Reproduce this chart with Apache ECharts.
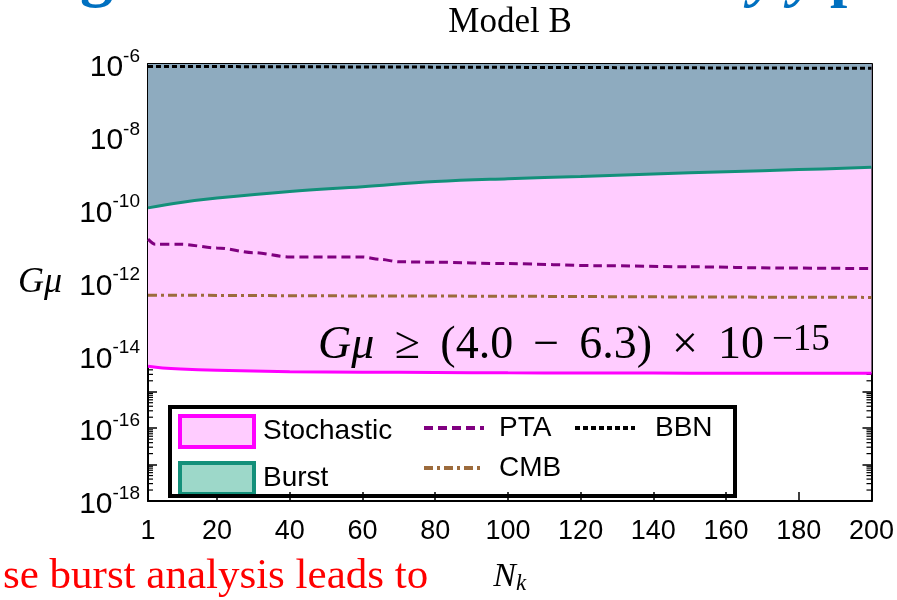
<!DOCTYPE html>
<html>
<head>
<meta charset="utf-8">
<title>Model B</title>
<script src="https://cdn.jsdelivr.net/npm/echarts@6/dist/echarts.min.js"></script>
<style>
  html, body { margin: 0; padding: 0; background: #fff; }
  #main { width: 897px; height: 600px; }
</style>
</head>
<body>
<div id="main"></div>
<script type="text/javascript">
// x ticks (N_k)
var xTicks = [1, 20, 40, 60, 80, 100, 120, 140, 160, 180, 200];

// lower bound, stochastic search
var stochN   = [1, 5, 10, 20, 40, 60, 80, 100, 120, 140, 160, 180, 200];
var stochGmu = [5.0e-15, 4.5e-15, 4.2e-15, 3.9e-15, 3.55e-15, 3.45e-15, 3.4e-15, 3.3e-15, 3.25e-15, 3.25e-15, 3.2e-15, 3.2e-15, 3.2e-15];

// lower bound, burst search
var burstN   = [1, 10, 20, 40, 60, 80, 100, 120, 140, 160, 180, 200];
var burstGmu = [1.12e-10, 1.58e-10, 2.09e-10, 3.16e-10, 4.27e-10, 5.89e-10, 7.08e-10, 8.13e-10, 9.55e-10, 1.10e-9, 1.26e-9, 1.45e-9];

// PTA
var ptaN   = [1, 3, 10, 20, 30, 40, 50, 60, 65, 70, 80, 100, 125, 150, 175, 200];
var ptaGmu = [1.55e-11, 1.12e-11, 1.12e-11, 8.9e-12, 6.6e-12, 5.0e-12, 5.0e-12, 5.0e-12, 4.3e-12, 3.7e-12, 3.6e-12, 3.3e-12, 2.9e-12, 2.7e-12, 2.5e-12, 2.4e-12];

// CMB
var cmbN   = [1, 50, 100, 150, 200];
var cmbGmu = [4.5e-13, 4.3e-13, 4.2e-13, 4.0e-13, 3.9e-13];

// BBN
var bbnN   = [1, 100, 200];
var bbnGmu = [8.6e-7, 8.1e-7, 7.6e-7];

function pairs(ns, vals) {
    return ns.map(function (n, i) { return [n, Math.log10(vals[i])]; });
}

// log-spaced minor ticks inside each decade
var minorTicks = [];
for (var d = -18; d < -6; d++) {
    for (var k = 2; k <= 9; k++) minorTicks.push([1, d + Math.log10(k)]);
}

var SANS = "'Liberation Sans', Arial, sans-serif";
var SERIF = "'Liberation Serif', 'Times New Roman', serif";
var NOFILL = 'rgba(0,0,0,0)';

var myChart = echarts.init(document.getElementById('main'));

myChart.setOption({
    animation: false,
    grid: { left: 148, right: 25, top: 64, bottom: 92 },
    legend: [
        {
            orient: 'vertical', left: 173, top: 409,
            itemWidth: 74, itemHeight: 31, itemGap: 12,
            textStyle: { fontFamily: SANS, fontSize: 28, color: '#000', padding: [0, 0, 0, 4] },
            data: [
                { name: 'Stochastic', icon: 'rect', itemStyle: { color: '#ffccff', borderColor: '#ff00ff', borderWidth: 4 } },
                { name: 'Burst', icon: 'rect', itemStyle: { color: '#9dd8c9', borderColor: '#13907a', borderWidth: 4 } }
            ]
        },
        {
            orient: 'vertical', left: 417, top: 409,
            itemWidth: 60, itemHeight: 31, itemGap: 12,
            itemStyle: { color: NOFILL, borderWidth: 0 },
            lineStyle: { width: 4 },
            textStyle: { fontFamily: SANS, fontSize: 28, color: '#000', padding: [0, 0, 0, 10] },
            data: ['PTA', 'CMB']
        },
        {
            orient: 'vertical', left: 568, top: 409,
            itemWidth: 60, itemHeight: 31,
            itemStyle: { color: NOFILL, borderWidth: 0 },
            lineStyle: { width: 4 },
            textStyle: { fontFamily: SANS, fontSize: 28, color: '#000', padding: [0, 0, 0, 15] },
            data: ['BBN']
        }
    ],
    xAxis: [
        {
            type: 'value', min: 1, max: 200, position: 'bottom',
            name: '{n|N}{k|k}', nameLocation: 'middle', nameGap: 58,
            nameTextStyle: {
                rich: {
                    n: { fontFamily: SERIF, fontStyle: 'italic', fontSize: 34, lineHeight: 36, color: '#000' },
                    k: { fontFamily: SERIF, fontStyle: 'italic', fontSize: 23, lineHeight: 16, verticalAlign: 'bottom', color: '#000' }
                }
            },
            axisLine: { lineStyle: { color: '#000', width: 2 } },
            axisTick: { inside: true, length: 9, customValues: xTicks, lineStyle: { color: '#000', width: 1.5 } },
            axisLabel: { customValues: xTicks, margin: 17, fontFamily: SANS, fontSize: 27, color: '#000' },
            splitLine: { show: false }
        },
        {
            type: 'value', min: 1, max: 200, position: 'top',
            axisLine: { lineStyle: { color: '#000', width: 2 } },
            axisTick: { inside: true, length: 9, customValues: xTicks, lineStyle: { color: '#000', width: 1.5 } },
            axisLabel: { show: false },
            splitLine: { show: false }
        }
    ],
    yAxis: [
        {
            type: 'value', min: -18, max: -6, interval: 1, position: 'left',
            name: 'Gμ', nameLocation: 'middle', nameRotate: 0, nameGap: 86,
            nameTextStyle: { fontFamily: SERIF, fontStyle: 'italic', fontSize: 36, color: '#000' },
            axisLine: { lineStyle: { color: '#000', width: 2 } },
            axisTick: { inside: true, length: 9, lineStyle: { color: '#000', width: 1.5 } },
            axisLabel: {
                margin: 8,
                formatter: function (v) { return v % 2 === 0 ? '{b|10}{s|' + v + '}' : ''; },
                rich: {
                    b: { fontFamily: SANS, fontSize: 30, lineHeight: 34, padding: [8, 0, 0, 0], color: '#000' },
                    s: { fontFamily: SANS, fontSize: 19, lineHeight: 14, verticalAlign: 'top', color: '#000' }
                }
            },
            splitLine: { show: false }
        },
        {
            type: 'value', min: -18, max: -6, interval: 1, position: 'right',
            axisLine: { lineStyle: { color: '#000', width: 2 } },
            axisTick: { inside: true, length: 9, lineStyle: { color: '#000', width: 1.5 } },
            axisLabel: { show: false },
            splitLine: { show: false }
        }
    ],
    series: [
        {
            name: 'Stochastic', type: 'line', data: pairs(stochN, stochGmu),
            smooth: 0.4, symbol: 'none',
            itemStyle: { color: '#ffccff' },
            lineStyle: { color: '#ff00ff', width: 3 },
            areaStyle: { origin: 'end', color: '#ffccff', opacity: 1 }
        },
        {
            name: 'Burst', type: 'line', data: pairs(burstN, burstGmu),
            smooth: 0.4, symbol: 'none',
            itemStyle: { color: '#9dd8c9' },
            lineStyle: { color: '#13907a', width: 3 },
            areaStyle: { origin: 'end', color: '#8eabbf', opacity: 1 }
        },
        {
            name: 'CMB', type: 'line', data: pairs(cmbN, cmbGmu),
            symbol: 'none',
            itemStyle: { color: '#9c6b3c' },
            lineStyle: { color: '#9c6b3c', width: 3, type: [9, 4, 3, 4] }
        },
        {
            name: 'PTA', type: 'line', data: pairs(ptaN, ptaGmu),
            smooth: 0.3, smoothMonotone: 'x', symbol: 'none',
            itemStyle: { color: '#800080' },
            lineStyle: { color: '#800080', width: 3, type: [9, 5] }
        },
        {
            name: 'BBN', type: 'line', data: pairs(bbnN, bbnGmu),
            symbol: 'none',
            itemStyle: { color: '#000' },
            lineStyle: { color: '#000', width: 3, type: [5, 3] }
        },
        {
            name: 'minor', type: 'custom', data: minorTicks, silent: true,
            renderItem: function (params, api) {
                var cs = params.coordSys;
                var y = api.coord([1, api.value(1)])[1];
                var style = { stroke: '#000', lineWidth: 1.2 };
                return {
                    type: 'group',
                    children: [
                        { type: 'line', shape: { x1: cs.x, y1: y, x2: cs.x + 5, y2: y }, style: style },
                        { type: 'line', shape: { x1: cs.x + cs.width - 5, y1: y, x2: cs.x + cs.width, y2: y }, style: style }
                    ]
                };
            }
        }
    ],
    graphic: [
        // cut-off slide heading
        { type: 'text', style: { x: 80, y: 10, text: 'g', font: 'bold 66px ' + SERIF, fill: '#0070c0', verticalAlign: 'bottom' } },
        { type: 'text', style: { x: 750, y: 10, text: 'y', font: 'italic bold 62px ' + SERIF, fill: '#0070c0', verticalAlign: 'bottom' } },
        { type: 'text', style: { x: 790, y: 10, text: 'y', font: 'italic bold 62px ' + SERIF, fill: '#0070c0', verticalAlign: 'bottom' } },
        { type: 'text', style: { x: 830, y: 10, text: 'p', font: 'bold 62px ' + SERIF, fill: '#0070c0', verticalAlign: 'bottom' } },
        // plot title
        { type: 'text', style: { x: 510, y: 23, text: 'Model B', font: '35px ' + SERIF, fill: '#000', align: 'center', verticalAlign: 'middle' } },
        // legend frame
        { type: 'rect', shape: { x: 170, y: 407, width: 565, height: 89 }, style: { fill: 'none', stroke: '#000', lineWidth: 4 }, z: 100 },
        // result annotation
        {
            type: 'text', z: 100,
            style: {
                x: 318, y: 346, verticalAlign: 'middle',
                text: '{i|Gμ}{o|≥}{n|(4.0}{o|−}{n|6.3)}{o|×}{n|10}{s|−15}',
                rich: {
                    i: { fontFamily: SERIF, fontStyle: 'italic', fontSize: 46, lineHeight: 48, fill: '#000' },
                    o: { fontFamily: SERIF, fontSize: 46, lineHeight: 48, width: 66, align: 'center', fill: '#000' },
                    n: { fontFamily: SERIF, fontSize: 46, lineHeight: 48, fill: '#000' },
                    s: { fontFamily: SERIF, fontSize: 37, lineHeight: 26, verticalAlign: 'top', padding: [0, 0, 0, 8], fill: '#000' }
                }
            }
        },
        // red slide text
        { type: 'text', style: { x: 3, y: 598, text: 'se burst analysis leads to', font: '43px ' + SERIF, fill: '#ff0000', verticalAlign: 'bottom' } }
    ]
});
</script>
</body>
</html>
